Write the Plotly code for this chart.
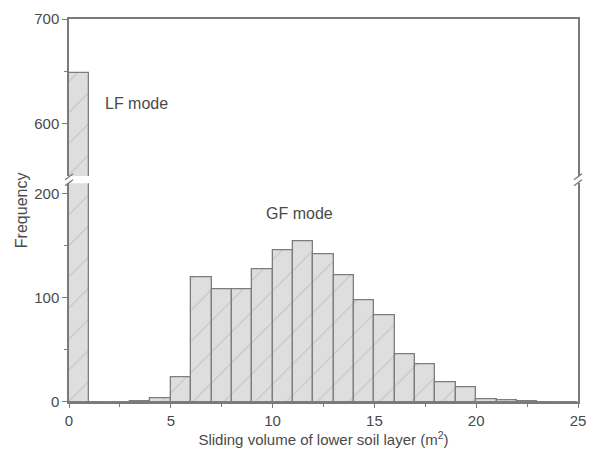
import plotly.graph_objects as go

bin_left = list(range(0, 25))
freq = [648, 0, 0, 1, 4, 24, 120, 108, 108, 127, 146, 154, 142, 122, 98, 83,
        46, 36, 19, 14, 3, 2, 1, 0, 0]
x_ticks = [0, 5, 10, 15, 20, 25]
lower_ticks = [0, 100, 200]
upper_ticks = [600, 700]

centers = [b + 0.5 for b in bin_left]

AX = "#7a7a7a"
TXT = "#4a4a4a"
FONT = "Liberation Sans, Arial, sans-serif"

bar_style = dict(
    color="#dedede",
    line=dict(color="#7d7d7d", width=1.3),
    pattern=dict(shape="/", fgcolor="#a8a8a8", bgcolor="#dedede", size=22, solidity=0.05),
)

fig = go.Figure()
fig.add_trace(go.Bar(x=centers, y=freq, width=1, marker=bar_style, xaxis="x", yaxis="y", showlegend=False))
fig.add_trace(go.Bar(x=centers, y=freq, width=1, marker=bar_style, xaxis="x2", yaxis="y2", showlegend=False))

low_dom = [0, 0.571]
up_dom = [0.590, 1]

fig.update_layout(
    width=596, height=459,
    margin=dict(l=69, r=10, t=17, b=57),
    paper_bgcolor="white", plot_bgcolor="white",
    font=dict(family=FONT, size=15, color=TXT),
    bargap=0,
    xaxis=dict(domain=[0, 1], anchor="y", range=[0, 25], tickvals=x_ticks,
               showline=True, linecolor=AX, linewidth=1.5, mirror=False,
               ticks="outside", ticklen=4, tickcolor=AX, tickwidth=1.2,
               tickfont=dict(size=15, color=TXT),
               minor=dict(tickvals=[2.5, 7.5, 12.5, 17.5, 22.5], ticks="outside", ticklen=3, tickcolor=AX),
               showgrid=False, zeroline=False,
               title=dict(text="Sliding volume of lower soil layer (m<sup>2</sup>)", standoff=6,
                          font=dict(size=15, color=TXT))),
    yaxis=dict(domain=low_dom, anchor="x", range=[0, 210], tickvals=lower_ticks,
               showline=True, linecolor=AX, linewidth=1.5, mirror=True,
               ticks="outside", ticklen=5, tickcolor=AX, tickwidth=1.2,
               tickfont=dict(size=15, color=TXT),
               minor=dict(tickvals=[50, 150], ticks="outside", ticklen=3, tickcolor=AX),
               showgrid=False, zeroline=False),
    xaxis2=dict(domain=[0, 1], anchor="y2", range=[0, 25], matches="x", side="top",
                showticklabels=False, ticks="", showline=True, linecolor=AX, linewidth=1.5,
                mirror=False, showgrid=False, zeroline=False),
    yaxis2=dict(domain=up_dom, anchor="x2", range=[550, 700], tickvals=upper_ticks,
                showline=True, linecolor=AX, linewidth=1.5, mirror=True,
                ticks="outside", ticklen=5, tickcolor=AX, tickwidth=1.2,
                tickfont=dict(size=15, color=TXT),
                minor=dict(tickvals=[650], ticks="outside", ticklen=3, tickcolor=AX),
                showgrid=False, zeroline=False),
)

fig.add_annotation(x=3.3, y=619, xref="x2", yref="y2", text="LF mode", showarrow=False,
                   font=dict(size=16, color=TXT))
fig.add_annotation(x=11.3, y=181, xref="x", yref="y", text="GF mode", showarrow=False,
                   font=dict(size=16, color=TXT))
fig.add_annotation(x=-0.093, y=0.5, xref="paper", yref="paper", xanchor="center", yanchor="middle",
                   text="Frequency", showarrow=False,
                   textangle=-90, font=dict(size=16, color=TXT))

# break marks
ymid = (low_dom[1] + up_dom[0]) / 2
for xa in [0, 1]:
    for dy in [-3, 3]:
        fig.add_shape(type="line", xref="paper", yref="paper",
                      xsizemode="pixel", xanchor=xa, x0=-4, x1=4,
                      ysizemode="pixel", yanchor=ymid, y0=dy - 3, y1=dy + 3,
                      line=dict(color=AX, width=1.3))

fig.write_html("out.html")
